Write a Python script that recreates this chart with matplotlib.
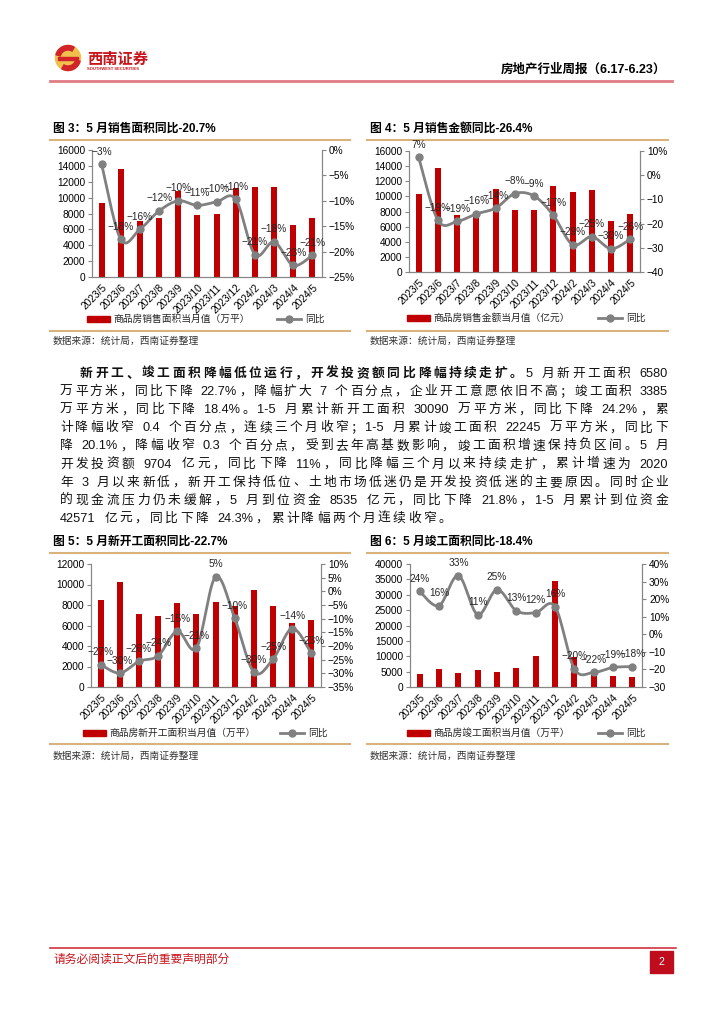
import re
import numpy as np
import matplotlib
matplotlib.use("Agg")
import matplotlib.pyplot as plt
from matplotlib.patches import Rectangle, Circle, Wedge
from matplotlib.lines import Line2D
from matplotlib.font_manager import FontProperties

FAMILY = ['Liberation Sans', 'Noto Sans CJK SC', 'DejaVu Sans']
plt.rcParams['font.family'] = FAMILY

# ---- data ----
months = ["2023/5", "2023/6", "2023/7", "2023/8", "2023/9", "2023/10",
          "2023/11", "2023/12", "2024/2", "2024/3", "2024/4", "2024/5"]

sales_area = [9350, 13560, 7030, 7410, 10820, 7790, 8000, 11240, 11370, 11370, 6610, 7410]
sales_area_yoy = [-2.8, -17.6, -15.6, -12.0, -10.0, -10.9, -10.2, -9.7, -20.6, -18.1, -22.7, -20.7]

sales_amount = [10360, 13750, 7490, 7600, 10930, 8150, 8150, 11330, 10580, 10800, 6700, 7710]
sales_amount_yoy = [7.4, -18.6, -19.1, -16.0, -13.6, -7.6, -8.6, -16.6, -28.7, -25.4, -30.4, -26.4]

new_starts = [8500, 10200, 7100, 6930, 8240, 7100, 8340, 7900, 9480, 7880, 6250, 6580]
new_starts_yoy = [-26.8, -29.9, -25.6, -23.6, -14.6, -20.8, 5.3, -9.9, -29.6, -24.8, -13.6, -22.7]

completions = [4140, 6000, 4470, 5450, 4800, 6300, 10100, 34600, 9900, 4800, 3600, 3385]
completions_yoy = [24.4, 16.3, 33.4, 11.2, 25.4, 13.4, 12.3, 15.8, -19.6, -21.7, -18.9, -18.4]

right_labels_3 = ['0%', '−5%', '−10%', '−15%', '−20%', '−25%']
right_labels_4 = ['10%', '0%', '−10', '−20', '−30', '−40']
right_labels_5 = ['10%', '5%', '0%', '−5%', '−10%', '−15%', '−20%', '−25%', '−30%', '−35%']
right_labels_6 = ['40%', '30%', '20%', '10%', '0%', '−10', '−20', '−30']

paragraph = [
    [("新开工、竣工面积降幅低位运行，开发投资额同比降幅持续走扩。", True), ("5 月新开工面积 6580", False)],
    [("万平方米，同比下降 22.7%，降幅扩大 7 个百分点，企业开工意愿依旧不高；竣工面积 3385", False)],
    [("万平方米，同比下降 18.4%。1-5 月累计新开工面积 30090 万平方米，同比下降 24.2%，累", False)],
    [("计降幅收窄 0.4 个百分点，连续三个月收窄；1-5 月累计竣工面积 22245 万平方米，同比下", False)],
    [("降 20.1%，降幅收窄 0.3 个百分点，受到去年高基数影响，竣工面积增速保持负区间。5 月", False)],
    [("开发投资额 9704 亿元，同比下降 11%，同比降幅三个月以来持续走扩，累计增速为 2020", False)],
    [("年 3 月以来新低，新开工保持低位、土地市场低迷仍是开发投资低迷的主要原因。同时企业", False)],
    [("的现金流压力仍未缓解，5 月到位资金 8535 亿元，同比下降 21.8%，1-5 月累计到位资金", False)],
    [("42571 亿元，同比下降 24.3%，累计降幅两个月连续收窄。", False)],
]

BAR_RED = "#C00000"
LINE_GRAY = "#808080"
TAN = "#d9b27c"

fig = plt.figure(figsize=(7.24, 10.24), dpi=100)
page = fig.add_axes([0, 0, 1, 1], zorder=0)
page.set_xlim(0, 724)
page.set_ylim(1024, 0)
page.axis("off")


def smooth(x, y, n=16):
    """Catmull-Rom curve through the points (Excel style smoothed line)."""
    px = np.r_[x[0], x, x[-1]].astype(float)
    py = np.r_[y[0], y, y[-1]].astype(float)
    xs, ys = [], []
    t = np.linspace(0, 1, n, endpoint=False)
    for i in range(1, len(px) - 2):
        for arr, out in ((px, xs), (py, ys)):
            p0, p1, p2, p3 = arr[i - 1], arr[i], arr[i + 1], arr[i + 2]
            out.extend(0.5 * (2 * p1 + (-p0 + p2) * t + (2 * p0 - 5 * p1 + 4 * p2 - p3) * t ** 2
                              + (-p0 + 3 * p1 - 3 * p2 + p3) * t ** 3))
    xs.append(px[-2])
    ys.append(py[-2])
    return np.array(xs), np.array(ys)


def draw_chart(box, bars, yoy, lmax, lstep, rlim, rstep, rlabels):
    left, top, right, bottom = box
    ax = fig.add_axes([left / 724, 1 - bottom / 1024, (right - left) / 724, (bottom - top) / 1024],
                      zorder=2)
    ax.set_facecolor("none")
    x = np.arange(len(months))
    ax.bar(x, bars, width=0.32, color=BAR_RED, zorder=1)
    ax.set_xlim(-0.5, len(months) - 0.5)
    ax.set_ylim(0, lmax)
    ax.set_yticks(np.arange(0, lmax + 1, lstep))
    ax.set_xticks(x)
    ax.set_xticklabels(months, rotation=45, ha="right", rotation_mode="anchor", fontsize=7.3)
    ax.tick_params(axis="x", length=0, pad=4)
    ax.tick_params(axis="y", labelsize=7.3, length=3, color="#868686", pad=2)
    ax.spines["top"].set_visible(False)
    for s in ("left", "bottom", "right"):
        ax.spines[s].set_color("#868686")
        ax.spines[s].set_linewidth(0.8)

    ax2 = ax.twinx()
    ax2.set_zorder(3)
    ax2.set_ylim(*rlim)
    ticks = np.arange(rlim[1], rlim[0] - 0.01, -rstep)
    ax2.set_yticks(ticks)
    ax2.set_yticklabels(rlabels)
    ax2.tick_params(axis="y", labelsize=7.3, length=3, color="#868686", pad=2)
    ax2.spines["top"].set_visible(False)
    for s in ("left", "bottom", "right"):
        ax2.spines[s].set_color("#868686")
        ax2.spines[s].set_linewidth(0.8)
    sx, sy = smooth(x, yoy)
    ax2.plot(sx, sy, color=LINE_GRAY, lw=2, zorder=2, solid_capstyle="round")
    ax2.plot(x, yoy, "o", color=LINE_GRAY, ms=5, zorder=3)
    for xi, v in zip(x, yoy):
        txt = f"{v:.0f}%".replace("-", "−")
        ax2.annotate(txt, (xi, v), xytext=(0, 9), textcoords="offset points",
                     ha="center", va="center", fontsize=7.3, color="#262626", zorder=4)
    return ax


def legend(x_patch, x_line, y, label):
    page.add_patch(Rectangle((x_patch, y - 3), 23, 6, color=BAR_RED))
    page.text(x_patch + 26, y, label, fontsize=7, va="center", ha="left",
              family=['Noto Sans CJK SC', 'DejaVu Sans'], color="#262626")
    page.add_line(Line2D([x_line, x_line + 24], [y, y], color=LINE_GRAY, lw=2))
    page.plot([x_line + 12], [y], "o", color=LINE_GRAY, ms=5)
    page.text(x_line + 28, y, "同比", fontsize=7, va="center", ha="left",
              family=['Noto Sans CJK SC', 'DejaVu Sans'], color="#262626")


def frame(x0, x1, y_title, y_top, y_bot, title, y_src=None):
    page.text(x0 + 3, y_title, title, fontsize=8.5, fontweight="bold", va="center", ha="left")
    page.add_line(Line2D([x0, x1], [y_top, y_top], color=TAN, lw=1.5))
    page.add_line(Line2D([x0, x1], [y_bot, y_bot], color=TAN, lw=1.5))
    if y_src is not None:
        page.text(x0 + 3, y_src, "数据来源：统计局，西南证券整理", fontsize=7, va="center", ha="left",
                  family=['Noto Sans CJK SC', 'DejaVu Sans'], color="#333333")


# ---- header ----
page.add_patch(Circle((68, 58), 12.5, color="#f0bf4c"))
page.add_patch(Wedge((68, 58), 12.5, 195, 300, width=4.5, color="#d2232a"))
page.add_patch(Wedge((68, 58), 12.5, 15, 120, width=4.5, color="#d2232a"))
page.add_patch(Rectangle((58, 56.5), 20, 3, color="#d2232a"))
page.text(87, 59, "西南证券", fontsize=11, fontweight="bold", color="#c8161d", va="center",
          family=['Noto Sans CJK SC', 'DejaVu Sans'])
page.text(87, 69.5, "SOUTHWEST SECURITIES", fontsize=3, fontweight="bold", color="#c8161d", va="center")
page.text(666, 70, "房地产行业周报（6.17-6.23）", fontsize=9, fontweight="bold", ha="right", va="center")
page.add_line(Line2D([50, 672], [81, 81], color="#e07b83", lw=2))

# ---- chart frames ----
frame(50, 350, 129, 140, 331, "图 3：5 月销售面积同比-20.7%", 341)
frame(367, 668, 129, 140, 331, "图 4：5 月销售金额同比-26.4%", 341)
frame(50, 350, 542, 553, 744, "图 5：5 月新开工面积同比-22.7%", 756)
frame(367, 668, 542, 553, 744, "图 6：5 月竣工面积同比-18.4%", 756)

draw_chart((92, 150, 322, 277), sales_area, sales_area_yoy, 16000, 2000, (-25, 0), 5, right_labels_3)
draw_chart((409, 151, 640, 272), sales_amount, sales_amount_yoy, 16000, 2000, (-40, 10), 10, right_labels_4)
draw_chart((91, 564, 321, 687), new_starts, new_starts_yoy, 12000, 2000, (-35, 10), 5, right_labels_5)
draw_chart((410, 564, 642, 687), completions, completions_yoy, 40000, 5000, (-30, 40), 10, right_labels_6)

legend(87, 277, 319, "商品房销售面积当月值（万平）")
legend(407, 598, 318, "商品房销售金额当月值（亿元）")
legend(83, 280, 733, "商品房新开工面积当月值（万平）")
legend(407, 598, 733, "商品房竣工面积当月值（万平）")

# ---- paragraph ----
renderer = fig.canvas.get_renderer()


def text_width(s, size, bold):
    prop = FontProperties(family=FAMILY, size=size, weight="bold" if bold else "normal")
    w, h, d = renderer.get_text_width_height_descent(s, prop, ismath=False)
    return w


def put_line(x0, x1, y, parts, size=9.2, gap=None):
    toks = []
    for s, bold in parts:
        for t in re.findall(r"\s+|[A-Za-z0-9.%\-]+|.", s):
            toks.append((t, bold))
    widths = [size * 100 / 72 * 0.3 if t.isspace() else text_width(t, size, b) for t, b in toks]
    if gap is None:
        gap = (x1 - x0 - sum(widths)) / (len(toks) - 1)
    x = x0
    for (t, b), w in zip(toks, widths):
        if not t.isspace():
            page.text(x, y, t, fontsize=size, fontweight="bold" if b else "normal",
                      ha="left", va="baseline", color="#111111")
        x += w + gap
    return gap


gaps = []
for i, parts in enumerate(paragraph):
    y = 377 + i * 18.1
    x0 = 80 if i == 0 else 60
    if i < len(paragraph) - 1:
        gaps.append(put_line(x0, 668, y, parts))
    else:
        put_line(x0, 668, y, parts, gap=float(np.mean(gaps)))

# ---- footer ----
page.add_line(Line2D([50, 676], [948, 948], color="#d0343f", lw=1.2))
page.text(53, 959, "请务必阅读正文后的重要声明部分", fontsize=8.5, color="#c8161d", va="center",
          family=['Noto Sans CJK SC', 'DejaVu Sans'])
page.add_patch(Rectangle((650, 951), 23, 22, color="#c00d1e"))
page.text(661.5, 962, "2", fontsize=7.5, color="white", ha="center", va="center")

fig.savefig("out.png", dpi=100)
